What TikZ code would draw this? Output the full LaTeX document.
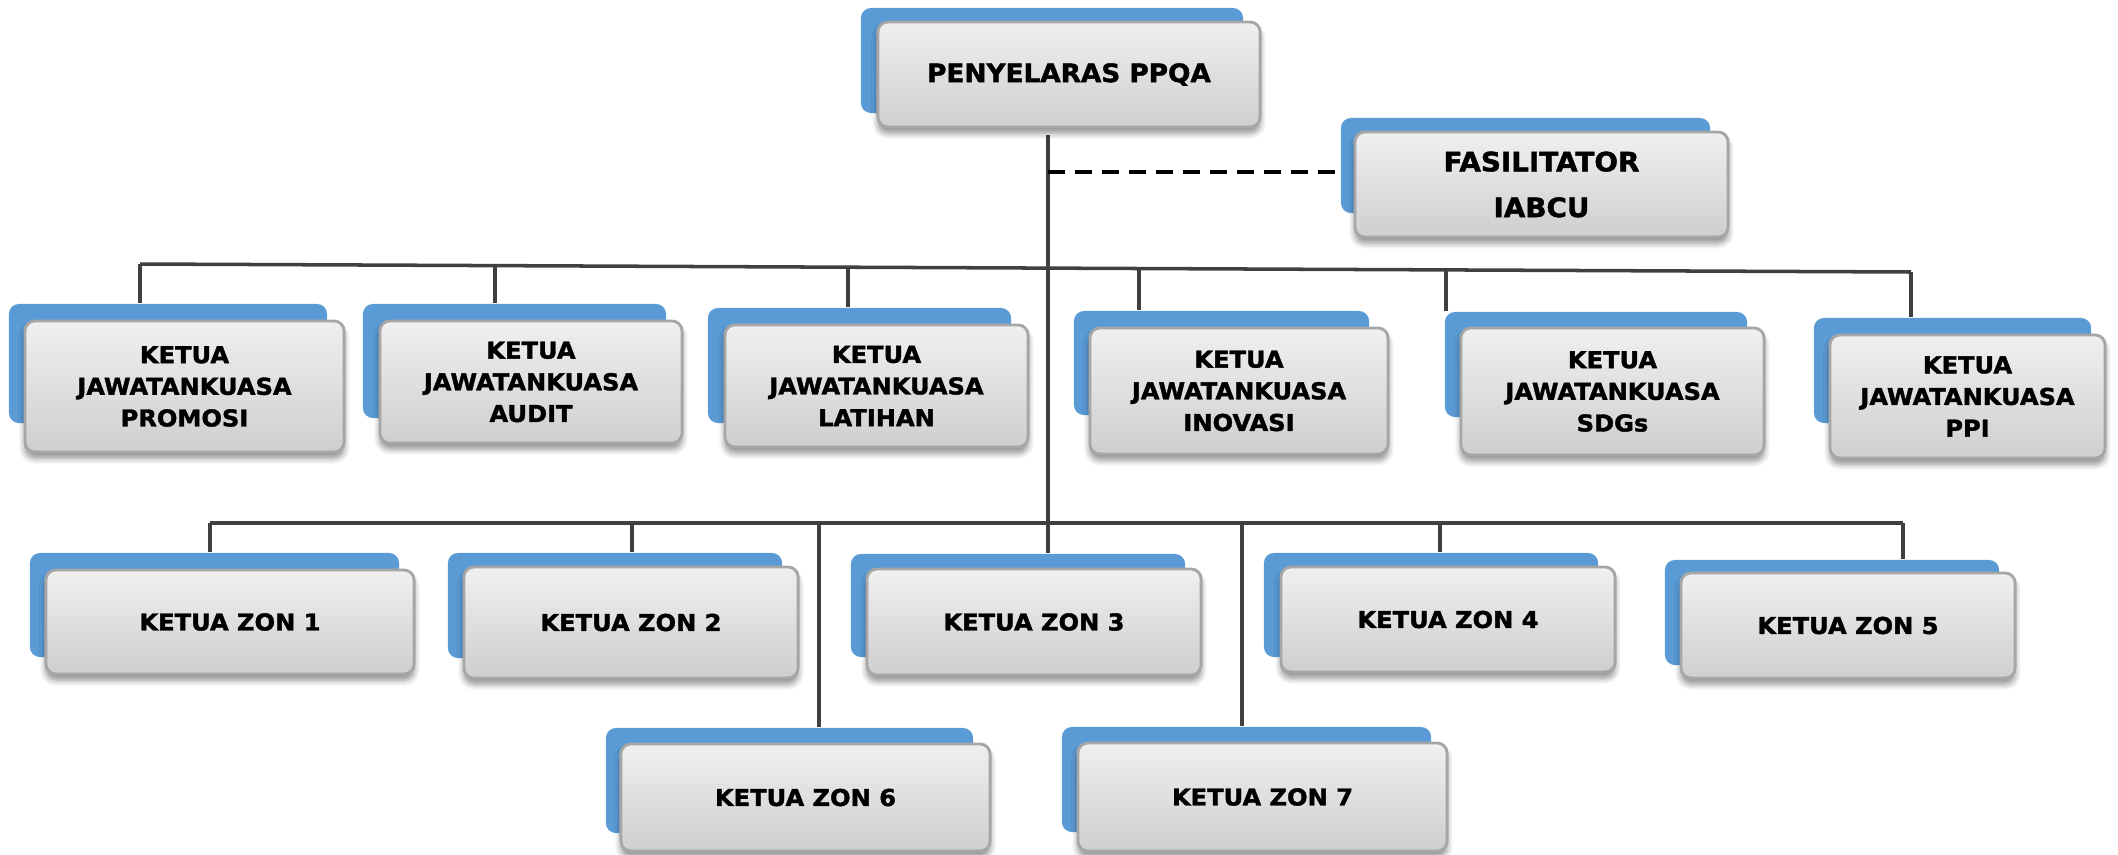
\documentclass[tikz,border=0pt]{standalone}
\usepackage{fontspec}
\newfontfamily\cardfont{DejaVu Sans}[FakeStretch=1.04, BoldFeatures={FakeBold=1.6}]
\usetikzlibrary{shadows.blur}

\pgfdeclarelayer{background}
\pgfsetlayers{background,main}

\definecolor{backblue}{HTML}{5B9BD5}
\definecolor{linegray}{HTML}{404040}

\tikzset{
  backcard/.style={fill=backblue, rounded corners=0.1cm, inner sep=0},
  frontcard/.style={draw=black!35, line width=0.8pt, rounded corners=0.1cm,
    top color=black!6, bottom color=black!19, align=center, inner sep=0,
    blur shadow={shadow xshift=0cm, shadow yshift=-0.06cm, shadow blur steps=6, shadow opacity=45},
    font=\cardfont\bfseries\fontsize{6.6}{9}\selectfont},
  orgline/.style={draw=linegray, line width=1pt},
  dashline/.style={draw=black, line width=1.2pt, dash pattern=on 0.17cm off 0.1cm},
}

\begin{document}
\begin{tikzpicture}[x=0.01cm, y=-0.01cm]
  \useasboundingbox (0,0) rectangle (2118,854);

  \node[backcard, minimum width=3.82cm, minimum height=1.05cm] (btop) at (1052,60.5) {};
  \node[frontcard, minimum width=3.82cm, minimum height=1.05cm,
    font=\cardfont\bfseries\fontsize{7.2}{9}\selectfont] (top) at (1069,74.5) {PENYELARAS PPQA};

  \node[backcard, minimum width=3.69cm, minimum height=0.95cm] (bfas) at (1525.5,165.5) {};
  \node[frontcard, minimum width=3.73cm, minimum height=1.05cm,
    font=\cardfont\bfseries\fontsize{7.6}{13}\selectfont] (fas) at (1541.5,184.5) {FASILITATOR\\IABCU};

  % committee heads
  \foreach \n/\gx/\gy/\gw/\gh/\bx/\by/\bw/\bh/\l in {
    j1/184.5/386.5/3.19/1.31/168/363.5/3.18/1.19/PROMOSI,
    j2/531/382/3.02/1.22/514.5/361/3.03/1.14/AUDIT,
    j3/876.5/386/3.03/1.22/859.5/365.5/3.03/1.15/LATIHAN,
    j4/1239/391/2.98/1.26/1221.5/363/2.95/1.04/INOVASI,
    j5/1612.5/391.5/3.03/1.27/1596/364.5/3.02/1.05/SDGs,
    j6/1967.5/396.5/2.75/1.23/1952.5/370.5/2.77/1.05/PPI} {
    \node[backcard, minimum width=\bw cm, minimum height=\bh cm] (b\n) at (\bx,\by) {};
    \node[frontcard, minimum width=\gw cm, minimum height=\gh cm] (\n) at (\gx,\gy) {KETUA\\JAWATANKUASA\\\l};
  }

  % zones
  \foreach \n/\gx/\gy/\gw/\gh/\bx/\by/\bw/\bh in {
    1/230/622/3.68/1.04/214.5/605/3.69/1.04,
    2/631/622.5/3.34/1.11/615/605.5/3.34/1.05,
    3/1034/622/3.34/1.06/1018/605.5/3.34/1.03,
    4/1448/619.5/3.34/1.05/1431/605/3.34/1.04,
    5/1848/625.5/3.34/1.05/1832/612.5/3.34/1.05,
    6/805.5/797.5/3.69/1.07/789.5/780.5/3.67/1.05,
    7/1262.5/797/3.69/1.08/1246.5/779.5/3.69/1.05} {
    \node[backcard, minimum width=\bw cm, minimum height=\bh cm] (bz\n) at (\bx,\by) {};
    \node[frontcard, minimum width=\gw cm, minimum height=\gh cm] (z\n) at (\gx,\gy) {KETUA ZON \n};
  }

  \begin{pgfonlayer}{background}
    \coordinate (trunk) at (1048,135);
    \coordinate (tap) at (1048,172);
    \draw[orgline] (trunk) -- (trunk |- bz3.north);
    \draw[dashline] (tap) -- (tap -| bfas.west);

    \coordinate (busL) at (140,264);
    \coordinate (busR) at (1911,272);
    \draw[orgline] (busL) -- (busR);
    \foreach \n/\x/\y in {j1/140/264, j2/495/266, j3/848/267, j4/1139/268.5, j5/1446/270, j6/1911/272}
      \draw[orgline] (\x,\y) -- (\x,0 |- b\n.north);

    \coordinate (zbusL) at (210,523);
    \coordinate (zbusR) at (1903,523);
    \draw[orgline] (zbusL) -- (zbusR);
    \foreach \n/\x in {1/210, 2/632, 4/1440, 5/1903, 6/819, 7/1242}
      \draw[orgline] (\x,523) -- (\x,0 |- bz\n.north);
  \end{pgfonlayer}

\end{tikzpicture}
\end{document}
